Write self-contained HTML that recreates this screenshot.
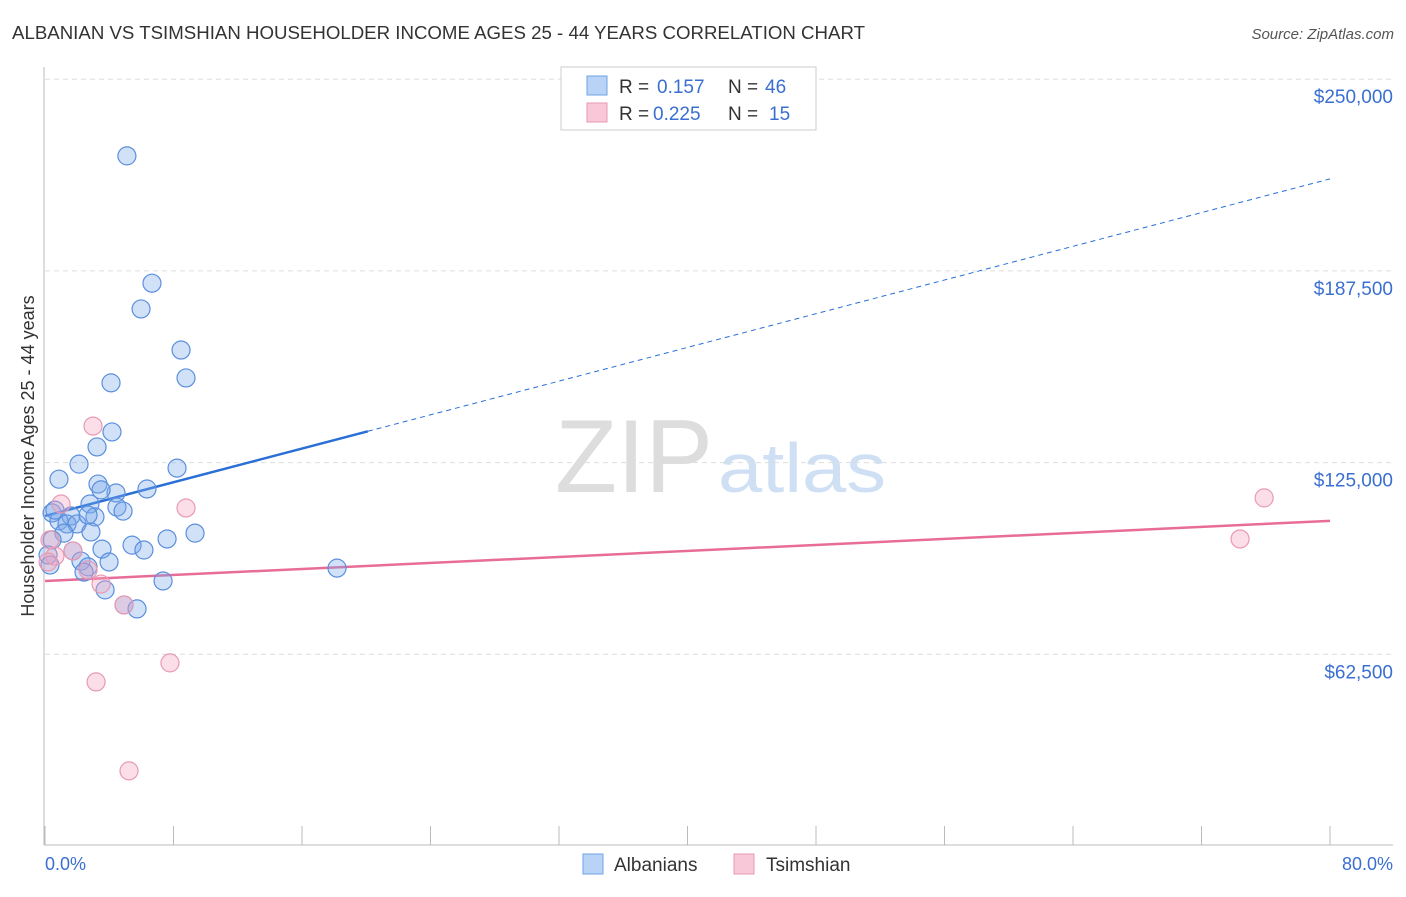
<!DOCTYPE html>
<html><head><meta charset="utf-8"><style>
body{margin:0;background:#fff;font-family:"Liberation Sans",sans-serif;}
svg text{font-family:"Liberation Sans",sans-serif;}
</style></head><body>
<svg width="1406" height="892" viewBox="0 0 1406 892">
<text x="12" y="39" font-size="18" fill="#333" textLength="853" lengthAdjust="spacingAndGlyphs">ALBANIAN VS TSIMSHIAN HOUSEHOLDER INCOME AGES 25 - 44 YEARS CORRELATION CHART</text>
<text x="1394" y="39" font-size="15" fill="#555" font-style="italic" text-anchor="end">Source: ZipAtlas.com</text>
<text x="555" y="492" font-size="104" fill="#ddd" font-family="Liberation Serif" textLength="158" lengthAdjust="spacingAndGlyphs">ZIP</text>
<text x="718" y="492" font-size="70" fill="#cfe0f5" textLength="168" lengthAdjust="spacingAndGlyphs">atlas</text>
<g id="grid"></g>
<g id="axes"></g>
<text transform="translate(34,456) rotate(-90)" font-size="18" fill="#333" text-anchor="middle">Householder Income Ages 25 - 44 years</text>
<text x="45" y="870" font-size="18" fill="#3a6fd0">0.0%</text>
<text x="1393" y="870" font-size="18" fill="#3a6fd0" text-anchor="end">80.0%</text>
<g id="lines"></g>
<g id="points"></g>
<g>
<rect x="561" y="67" width="255" height="63" fill="#fff" stroke="#ccc"/>
<rect x="587" y="76" width="20" height="19" fill="#b8d3f5" stroke="#6fa3e6"/>
<rect x="587" y="103" width="20" height="19" fill="#f9c8d8" stroke="#e89ab3"/>
<text x="619" y="93" font-size="19" fill="#333">R =</text>
<text x="657" y="93" font-size="19" fill="#3a6fd0">0.157</text>
<text x="728" y="93" font-size="19" fill="#333">N =</text>
<text x="765" y="93" font-size="19" fill="#3a6fd0">46</text>
<text x="619" y="120" font-size="19" fill="#333">R =</text>
<text x="653" y="120" font-size="19" fill="#3a6fd0">0.225</text>
<text x="728" y="120" font-size="19" fill="#333">N =</text>
<text x="769" y="120" font-size="19" fill="#3a6fd0">15</text>
</g>
<g>
<rect x="583" y="854" width="20" height="20" fill="#b8d3f5" stroke="#6fa3e6"/>
<text x="614" y="871" font-size="19" fill="#333">Albanians</text>
<rect x="734" y="854" width="20" height="20" fill="#f9c8d8" stroke="#e89ab3"/>
<text x="766" y="871" font-size="19" fill="#333">Tsimshian</text>
</g>
</svg>
<script>
const yTicks=[62500,125000,187500,250000];
const yTickLabels=["$62,500","$125,000","$187,500","$250,000"];
const xTicks=[0,8,16,24,32,40,48,56,64,72,80];
const albX=[5.1,6.66,5.98,8.47,8.78,4.11,4.17,3.24,2.12,8.22,0.87,3.30,4.42,3.49,6.35,2.80,4.48,4.86,0.44,1.62,3.11,0.87,1.37,1.99,1.18,2.86,9.34,7.60,0.44,5.42,3.55,6.16,1.74,2.24,3.99,2.68,18.18,2.43,7.35,3.74,4.92,5.73,0.19,0.31,0.62,2.68];
const albY=[225.0,183.5,175.1,161.7,152.6,151.0,135.0,130.1,124.5,123.2,119.6,118.0,115.1,116.1,116.4,111.5,110.5,109.2,108.6,107.6,107.3,106.0,105.0,105.0,102.0,102.4,102.0,100.1,99.8,98.1,96.8,96.5,96.2,92.9,92.6,91.0,90.6,89.3,86.4,83.5,78.6,77.3,94.9,91.6,109.5,107.9];
const tsiX=[2.99,1.0,8.78,75.9,74.4,1.74,0.62,0.19,2.68,3.49,4.92,7.78,3.18,5.23,0.31];
const tsiY=[136.9,111.5,110.2,113.5,100.1,96.2,94.5,92.6,90.0,85.4,78.6,59.7,53.5,24.5,99.8];
const albTrend=[107.6,217.5];
const tsiTrend=[86.4,106.0];
const albSolidEnd=20.1;
const NS="http://www.w3.org/2000/svg";
const X=p=>45+p*(1285/80);
const Y=v=>846-v*1000*(191.7/62500);
function mk(tag,attrs,parent){const e=document.createElementNS(NS,tag);for(const k in attrs)e.setAttribute(k,attrs[k]);document.getElementById(parent).appendChild(e);return e;}
yTicks.forEach((t,i)=>{
 const l=mk('line',{x1:45,x2:1393,y1:Y(t/1000),y2:Y(t/1000),stroke:'#ddd','stroke-dasharray':'5,4'},'grid');
 
 
 const tx=mk('text',{x:1393,y:Y(t/1000)+24,'font-size':19,fill:'#3a6fd0','text-anchor':'end'},'grid');
 tx.textContent=yTickLabels[i];
 
 
});
const ya=mk('line',{x1:44,x2:44,y1:67,y2:845,stroke:'#bbb'},'axes');


const xa=mk('line',{x1:44,x2:1393,y1:845,y2:845,stroke:'#bbb'},'axes');


xTicks.forEach(t=>{
 const l=mk('line',{x1:X(t),x2:X(t),y1:826,y2:845,stroke:'#bbb'},'axes');
 
 
});
const at=v=>albTrend[0]+(albTrend[1]-albTrend[0])*v/80;
let a=mk('line',{x1:X(0),y1:Y(at(0)),x2:X(albSolidEnd),y2:Y(at(albSolidEnd)),stroke:'#2a6fd6','stroke-width':2.5},'lines');


a=mk('line',{x1:X(albSolidEnd),y1:Y(at(albSolidEnd)),x2:X(80),y2:Y(at(80)),stroke:'#2a6fd6','stroke-width':1,'stroke-dasharray':'5,4'},'lines');


a=mk('line',{x1:X(0),y1:Y(tsiTrend[0]),x2:X(80),y2:Y(tsiTrend[1]),stroke:'#e86c98','stroke-width':2.5},'lines');


albX.forEach((x,i)=>{
 const c=mk('circle',{cx:X(x),cy:Y(albY[i]),r:9,fill:'rgba(120,170,235,0.35)',stroke:'#5b8fdd','stroke-width':1.2},'points');
 
 
});
tsiX.forEach((x,i)=>{
 const c=mk('circle',{cx:X(x),cy:Y(tsiY[i]),r:9,fill:'rgba(245,160,190,0.35)',stroke:'#e89ab3','stroke-width':1.2},'points');
 
 
});
</script>
</body></html>
